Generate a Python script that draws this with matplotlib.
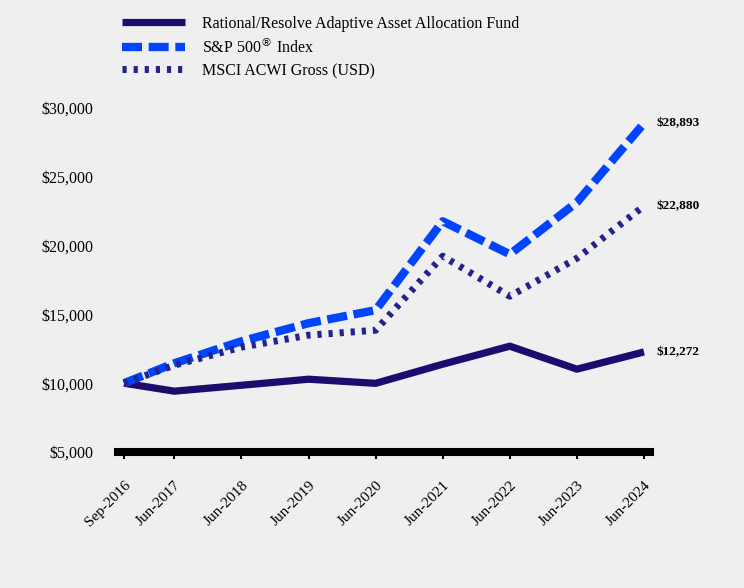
import matplotlib
matplotlib.use("Agg")
from matplotlib import pyplot as plt
from matplotlib.ticker import FuncFormatter

plt.rcParams['font.family'] = ['Liberation Serif', 'DejaVu Serif']

# dates as decimal years
x = [2016.75, 2017.5, 2018.5, 2019.5, 2020.5, 2021.5, 2022.5, 2023.5, 2024.5]
tick_labels = ["Sep-2016", "Jun-2017", "Jun-2018", "Jun-2019", "Jun-2020",
               "Jun-2021", "Jun-2022", "Jun-2023", "Jun-2024"]

fund = [10000, 9420, 9850, 10290, 9990, 11380, 12690, 11020, 12272]
sp500 = [10000, 11450, 13050, 14360, 15310, 21770, 19370, 23150, 28893]
msci = [10000, 11310, 12620, 13490, 13850, 19230, 16320, 19080, 22880]

names = ["Rational/Resolve Adaptive Asset Allocation Fund",
         "S&P 500$^{\\circledR}$ Index",
         "MSCI ACWI Gross (USD)"]

bg = "#efefef"
fig = plt.figure(figsize=(7.44, 5.88), dpi=100, facecolor=bg)
ax = fig.add_axes([0.1586, 0.2313, 0.7151, 0.585])
ax.set_facecolor(bg)

l1, = ax.plot(x, fund, color="#1f0a6e", lw=5.2, solid_capstyle="butt")
l2, = ax.plot(x, sp500, color="#0044ff", lw=6, dashes=(2.4, 0.8), dash_capstyle="butt")
l3, = ax.plot(x, msci, color="#23238e", lw=5, dashes=(0.6, 1.0), dash_capstyle="butt")

for vals in (fund, sp500, msci):
    ax.text(2024.5 + 0.18, vals[-1], "${:,}".format(vals[-1]), fontsize=9.5,
            fontweight="bold", va="center", ha="left")

ax.set_xlim(2016.66, 2024.59)
ax.set_ylim(5000, 30000)
ax.set_yticks([5000, 10000, 15000, 20000, 25000, 30000])
ax.yaxis.set_major_formatter(FuncFormatter(lambda v, p: "${:,.0f}".format(v)))
ax.set_xticks(x)
ax.set_xticklabels(tick_labels, rotation=45, ha="right", rotation_mode="anchor")

for s in ("top", "right", "left"):
    ax.spines[s].set_visible(False)
ax.spines["bottom"].set_linewidth(5.8)
ax.tick_params(axis="y", length=0, pad=18, labelsize=11.5)
ax.tick_params(axis="x", length=5, width=1.5, pad=14, labelsize=11)

fig.legend([l1, l2, l3], names, loc="upper left", bbox_to_anchor=(0.145, 0.998),
           frameon=False, fontsize=11.5, handlelength=3.9, handletextpad=1.1,
           labelspacing=0.38)

fig.savefig("out.png", dpi=100, facecolor=bg)
